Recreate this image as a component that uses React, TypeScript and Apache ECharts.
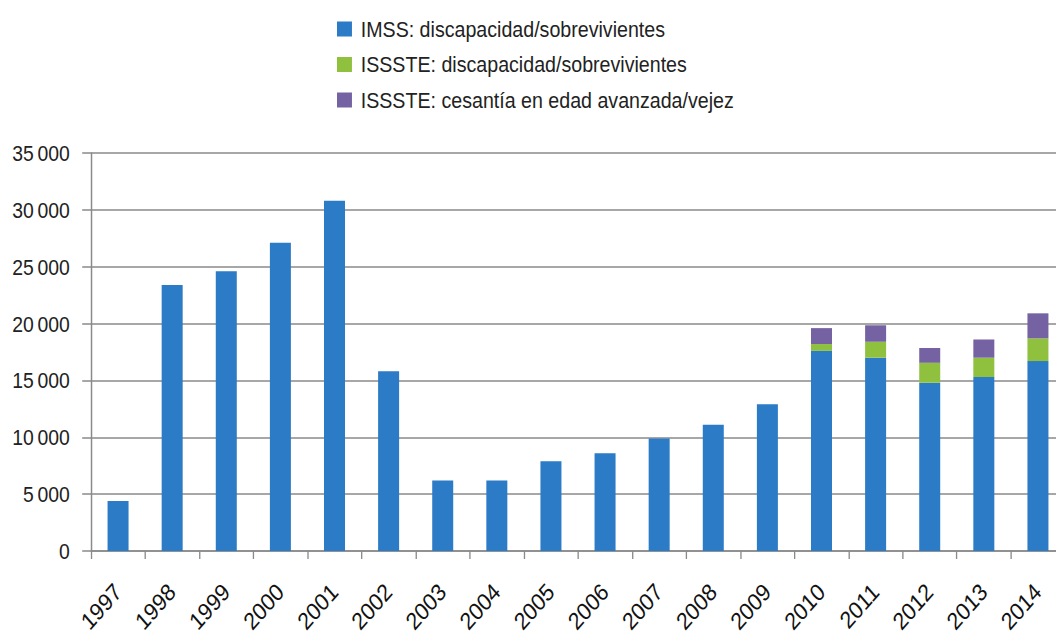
import React, { useEffect, useRef } from "react";
import * as echarts from "echarts";

const years = ["1997","1998","1999","2000","2001","2002","2003","2004","2005","2006","2007","2008","2009","2010","2011","2012","2013","2014"];
const imssDisab = [4400, 23400, 24600, 27100, 30800, 15800, 6200, 6200, 7900, 8600, 9900, 11100, 12900, 17600, 17000, 14800, 15300, 16700];
const issteDisab = [0, 0, 0, 0, 0, 0, 0, 0, 0, 0, 0, 0, 0, 600, 1400, 1750, 1700, 2000];
const issteOld = [0, 0, 0, 0, 0, 0, 0, 0, 0, 0, 0, 0, 0, 1400, 1450, 1300, 1600, 2200];
const seriesNames = ["IMSS: discapacidad/sobrevivientes", "ISSSTE: discapacidad/sobrevivientes", "ISSSTE: cesantía en edad avanzada/vejez"];
const colors = ["#2b7bc6", "#8fc13f", "#7562a2"];

const FONT = "'Liberation Sans', Arial, sans-serif";
const K = 0.88; // horizontal squeeze of the whole picture
const W = Math.round(1080 / K);

export default function App() {
  const ref = useRef<HTMLDivElement>(null);
  useEffect(() => {
    if (!ref.current) return;
    const chart = echarts.init(ref.current, null, { renderer: "svg" });
    const mk = (name: string, data: number[], color: string) => ({
      name,
      type: "bar",
      stack: "total",
      data: data.map((v) => (v === 0 ? null : v)),
      barWidth: 21 / K,
      itemStyle: { color },
    });
    const gridLeft = 91 / K;
    const gridRight = W - 1065 / K;
    chart.setOption({
      animation: false,
      backgroundColor: "#ffffff",
      legend: {
        orient: "vertical",
        left: 337 / K - 5,
        top: 13,
        itemWidth: 17,
        itemHeight: 15,
        itemGap: 13.5,
        icon: "rect",
        textStyle: { fontFamily: FONT, fontSize: 22.3, color: "#222", padding: [0, 0, 0, 5] },
        data: seriesNames,
      },
      grid: {
        left: gridLeft,
        right: gridRight,
        top: 153,
        bottom: 83,
        containLabel: false,
        outerBoundsMode: "none",
      },
      xAxis: {
        type: "category",
        data: years,
        axisLine: { lineStyle: { color: "#8a8a8a", width: 1.5 } },
        axisTick: { show: true, length: 8, lineStyle: { color: "#8a8a8a", width: 1.5 } },
        axisLabel: {
          rotate: 45,
          interval: 0,
          margin: 37,
          fontFamily: FONT,
          fontSize: 24,
          color: "#111",
        },
      },
      yAxis: {
        type: "value",
        min: 0,
        max: 35000,
        interval: 5000,
        axisLine: { show: true, lineStyle: { color: "#8a8a8a", width: 1.7 } },
        axisTick: { show: true, length: 10, lineStyle: { color: "#8a8a8a", width: 1.5 } },
        splitLine: { show: true, lineStyle: { color: "#8a8a8a", width: 1.5 } },
        axisLabel: {
          margin: 24,
          fontFamily: FONT,
          fontSize: 22,
          color: "#222",
          formatter: (v: number) => (v >= 1000 ? Math.floor(v / 1000) + "\u2009" + String(v % 1000).padStart(3, "0") : String(v)),
        },
      },
      series: [
        mk(seriesNames[0], imssDisab, colors[0]),
        mk(seriesNames[1], issteDisab, colors[1]),
        mk(seriesNames[2], issteOld, colors[2]),
      ],
    });
    return () => chart.dispose();
  }, []);
  return (
    <div style={{ position: "fixed", left: 0, top: 0, width: 1056, height: 634, overflow: "hidden", background: "#fff" }}>
      <div
        ref={ref}
        style={{
          position: "absolute",
          left: 0,
          top: 0,
          width: W,
          height: 634,
          transform: `scaleX(${K})`,
          transformOrigin: "0 0",
        }}
      />
    </div>
  );
}
